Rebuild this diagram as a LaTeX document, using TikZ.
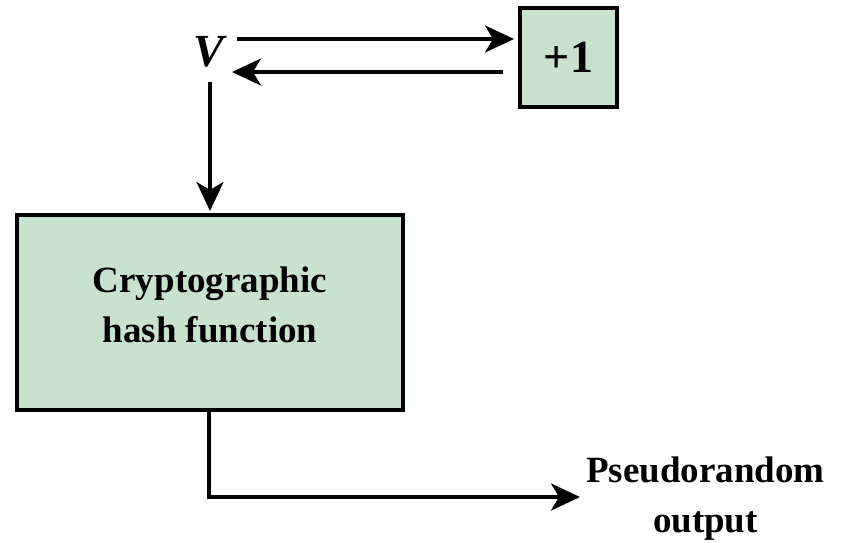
\documentclass[tikz,border=0pt]{standalone}
\usepackage{fontspec}
\setmainfont{Liberation Serif}
\usetikzlibrary{arrows.meta}
\definecolor{boxgreen}{RGB}{200,226,205}
\tikzset{
  blockbox/.style={draw=black, line width=4pt, fill=boxgreen, inner sep=0pt},
  flow/.style={line width=3.5pt, -{Stealth[length=29pt,width=27pt,inset=8pt]}},
  lbl/.style={font=\bfseries\fontsize{37}{50}\selectfont, align=center, inner sep=0pt},
}
\begin{document}
\begin{tikzpicture}[x=1pt,y=-1pt]
  \useasboundingbox (0,0) rectangle (845,542);
  % counter value and increment block
  \node[font=\bfseries\itshape\fontsize{46}{50}\selectfont, inner sep=0pt] (v) at (209,52) {V};
  \node[blockbox, minimum width=97pt, minimum height=99pt] (inc) at (568.5,57.5) {};
  \node[font=\bfseries\fontsize{46}{50}\selectfont, inner sep=0pt] at (inc.center) {+1};
  % hash block
  \node[blockbox, minimum width=386pt, minimum height=195pt] (hash) at (210,312.5) {};
  \node[lbl] (hlbl) at (210,305) {Cryptographic\\hash function};
  % output label
  \node[lbl, anchor=west] (out) at (586,499) {Pseudorandom\\output};
  % connector anchors
  \coordinate (v1) at (237,39);
  \coordinate (v2) at (232,72);
  \coordinate (v3) at (210,82);
  \coordinate (corner) at (209,497);
  % connectors
  \draw[flow] (v1) -- ([xshift=-4pt]inc.west |- v1);
  \draw[flow] (inc.west |- v2) ++(-15,0) -- (v2);
  \draw[flow] (v3) -- ([yshift=2pt]hash.north -| v3);
  \draw[flow] (hash.south -| corner) -- (corner) -- ([xshift=-6pt]out.west |- corner);
\end{tikzpicture}
\end{document}
